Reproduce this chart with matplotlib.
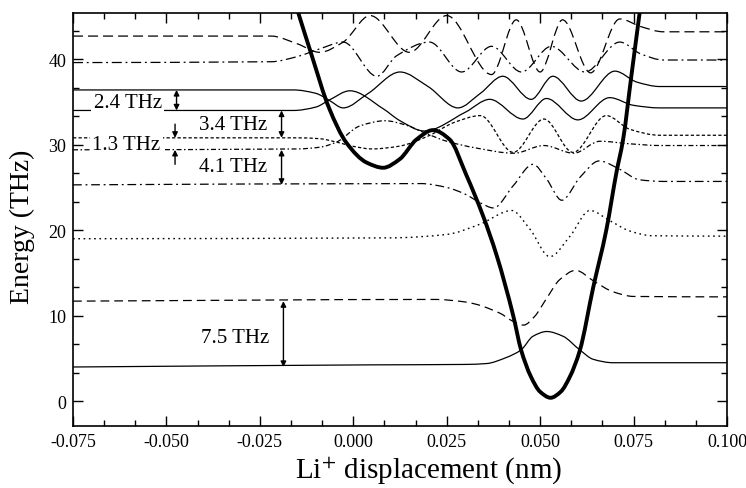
import numpy as np
import matplotlib
matplotlib.use("Agg")
import matplotlib.pyplot as plt
from matplotlib.path import Path
from matplotlib.patches import PathPatch
from matplotlib.ticker import MultipleLocator, FormatStrFormatter

plt.rcParams['font.family'] = ['Liberation Serif', 'DejaVu Serif']
plt.rcParams['mathtext.fontset'] = 'stix'
plt.rcParams['axes.unicode_minus'] = False

# potential (thick line), x in nm, energy in THz
pot_x = [-0.0150, -0.0111, -0.0065, -0.0018, 0.0036, 0.0080, 0.0124, 0.0169, 0.0213,
         0.0258, 0.0302, 0.0347, 0.0384, 0.0428, 0.0449, 0.0475, 0.0500, 0.0528,
         0.0555, 0.0580, 0.0606, 0.0642, 0.0677, 0.0704, 0.0722, 0.0744, 0.0768]
pot_e = [45.8, 40.4, 34.3, 30.2, 27.9, 27.3, 28.3, 30.6, 31.7,
         30.6, 26.5, 21.7, 17.0, 10.0, 6.0, 2.9, 1.1, 0.4,
         1.1, 2.9, 5.9, 13.3, 20.0, 26.7, 30.6, 38.0, 46.0]

# wavefunctions drawn on their energy levels
s0_x = [-0.075, 0.005, 0.030, 0.0356, 0.0409, 0.0449, 0.0481, 0.0518, 0.0561, 0.0606, 0.0642, 0.0695, 0.075, 0.100]
s0_e = [4.0, 4.25, 4.3, 4.4, 5.1, 6.0, 7.6, 8.15, 7.6, 6.0, 4.9, 4.5, 4.5, 4.5]

s1_x = [-0.075, 0.022, 0.030, 0.0392, 0.0425, 0.0456, 0.0485, 0.0517, 0.0552, 0.0595, 0.0645, 0.0695, 0.075, 0.100]
s1_e = [11.7, 11.9, 11.6, 10.3, 9.4, 8.9, 9.9, 12.0, 14.2, 15.3, 14.0, 12.8, 12.25, 12.2]

s2_x = [-0.075, 0.010, 0.025, 0.0339, 0.0424, 0.0473, 0.0526, 0.0580, 0.0633, 0.0687, 0.0740, 0.080, 0.100]
s2_e = [19.0, 19.1, 19.5, 20.7, 22.3, 20.1, 16.9, 19.3, 22.3, 21.1, 19.9, 19.35, 19.3]

s3_x = [-0.075, 0.018, 0.025, 0.030, 0.034, 0.0375, 0.0428, 0.0481, 0.0517, 0.0558, 0.0607, 0.0658, 0.0714, 0.0765, 0.083, 0.100]
s3_e = [25.3, 25.45, 25.0, 24.2, 23.2, 22.6, 25.2, 27.7, 26.0, 23.5, 26.2, 28.1, 27.1, 25.9, 25.7, 25.7]

s4_x = [-0.075, -0.015, -0.0090, -0.0045, 0.0018, 0.0085, 0.0140, 0.0190, 0.0250, 0.0330, 0.0430, 0.0510, 0.0590, 0.0660, 0.0740, 0.082, 0.100]
s4_e = [29.4, 29.5, 29.7, 30.3, 32.2, 32.8, 32.3, 31.4, 30.4, 29.6, 29.0, 29.9, 29.0, 30.4, 30.1, 29.9, 29.9]

s5_x = [-0.075, -0.015, -0.0090, -0.0045, 0.0000, 0.0050, 0.0120, 0.0200, 0.0270, 0.0340, 0.0428, 0.0510, 0.0588, 0.0677, 0.0740, 0.082, 0.100]
s5_e = [30.8, 30.8, 30.7, 30.3, 29.8, 29.5, 29.8, 31.0, 32.6, 33.4, 29.1, 33.0, 29.1, 33.4, 31.8, 31.1, 31.1]

s6_x = [-0.075, -0.016, -0.0100, -0.0065, -0.0009, 0.0080, 0.0125, 0.0190, 0.0300, 0.0365, 0.0454, 0.0517, 0.0601, 0.0686, 0.0750, 0.082, 0.100]
s6_e = [34.0, 34.0, 34.4, 35.2, 36.3, 34.2, 32.8, 31.6, 33.8, 35.3, 33.0, 35.4, 32.9, 35.5, 34.6, 34.3, 34.3]

s7_x = [-0.075, -0.016, -0.0100, -0.0065, -0.0027, 0.0040, 0.0125, 0.0200, 0.0280, 0.0340, 0.0400, 0.0476, 0.0534, 0.0610, 0.0700, 0.0760, 0.082, 0.100]
s7_e = [36.4, 36.4, 36.0, 35.2, 34.3, 36.0, 38.5, 36.8, 34.3, 36.0, 38.0, 35.3, 38.0, 35.1, 38.6, 37.3, 36.8, 36.8]

s8_x = [-0.075, -0.022, -0.015, -0.0090, -0.0027, 0.0063, 0.0116, 0.0204, 0.0290, 0.0370, 0.0450, 0.0530, 0.0620, 0.0713, 0.0770, 0.083, 0.100]
s8_e = [39.6, 39.7, 40.3, 41.2, 42.0, 38.0, 40.4, 42.0, 38.5, 41.5, 38.5, 41.5, 38.5, 42.0, 40.6, 39.9, 39.9]

s9_x = [-0.075, -0.022, -0.015, -0.0090, -0.0027, 0.0045, 0.0150, 0.0250, 0.0370, 0.0436, 0.0500, 0.0560, 0.0635, 0.0713, 0.0770, 0.083, 0.100]
s9_e = [42.7, 42.7, 41.8, 40.8, 42.0, 45.1, 40.8, 45.1, 38.2, 44.6, 38.5, 44.6, 38.4, 44.7, 43.8, 43.2, 43.2]

# level spacings: (label, x of arrow, lower level, upper level)
gaps = [("2.4 THz", -0.0473, 34.0, 36.4),
        ("3.4 THz", -0.0192, 30.8, 34.0),
        ("4.1 THz", -0.0192, 25.3, 29.4),
        ("7.5 THz", -0.0187, 4.0, 11.7)]
label_pos = {"2.4 THz": (-0.0604, 34.9), "3.4 THz": (-0.0322, 32.4),
             "1.3 THz": (-0.0608, 30.0), "4.1 THz": (-0.0323, 27.4),
             "7.5 THz": (-0.0317, 7.5)}


def slopes(x, y):
    x = np.asarray(x, float)
    y = np.asarray(y, float)
    h = np.diff(x)
    d = np.diff(y) / h
    m = np.zeros_like(y)
    m[0], m[-1] = d[0], d[-1]
    for k in range(1, len(x) - 1):
        if d[k - 1] * d[k] > 0:
            w1 = 2 * h[k] + h[k - 1]
            w2 = h[k] + 2 * h[k - 1]
            m[k] = (w1 + w2) / (w1 / d[k - 1] + w2 / d[k])
    return m


def curve(ax, x, y, **kw):
    # smooth bezier path through the read points
    m = slopes(x, y)
    verts = [(x[0], y[0])]
    codes = [Path.MOVETO]
    for i in range(len(x) - 1):
        h = x[i + 1] - x[i]
        verts += [(x[i] + h / 3, y[i] + m[i] * h / 3),
                  (x[i + 1] - h / 3, y[i + 1] - m[i + 1] * h / 3),
                  (x[i + 1], y[i + 1])]
        codes += [Path.CURVE4] * 3
    ax.add_patch(PathPatch(Path(verts, codes), fill=False, color='black',
                           capstyle='butt', **kw))


fig = plt.figure(figsize=(7.46, 4.89), dpi=100)
ax = fig.add_axes([0.0979, 0.1268, 0.8766, 0.8446])

thin = 0.9
curve(ax, s0_x, s0_e, lw=thin, linestyle='-')
curve(ax, s1_x, s1_e, lw=thin, linestyle=(0, (7, 4)))
curve(ax, s2_x, s2_e, lw=1.0, linestyle=(0, (1.2, 2.6)))
curve(ax, s3_x, s3_e, lw=thin, linestyle=(0, (7, 3, 1.5, 3)))
curve(ax, s4_x, s4_e, lw=thin, linestyle=(0, (4, 2, 1.2, 2)))
curve(ax, s5_x, s5_e, lw=thin, linestyle=(0, (2.6, 1.8)))
curve(ax, s6_x, s6_e, lw=thin, linestyle='-')
curve(ax, s7_x, s7_e, lw=thin, linestyle='-')
curve(ax, s8_x, s8_e, lw=thin, linestyle=(0, (8, 3, 1.5, 3)))
curve(ax, s9_x, s9_e, lw=thin, linestyle=(0, (8, 4)))
curve(ax, pot_x, pot_e, lw=2.8, linestyle='-')

arrow = dict(arrowstyle='<|-|>', color='black', lw=1.0, mutation_scale=8,
             shrinkA=0, shrinkB=0)
for name, xa, lo, hi in gaps:
    ax.annotate('', xy=(xa, hi), xytext=(xa, lo), arrowprops=arrow)
one = dict(arrowstyle='-|>', color='black', lw=1.0, mutation_scale=8,
           shrinkA=0, shrinkB=0)
ax.annotate('', xy=(-0.0477, 30.8), xytext=(-0.0477, 32.4), arrowprops=one)
ax.annotate('', xy=(-0.0477, 29.4), xytext=(-0.0477, 27.7), arrowprops=one)

for name, (tx, ty) in label_pos.items():
    ax.text(tx, ty, name, ha='center', va='center', fontsize=15, zorder=4,
            bbox=dict(facecolor='white', edgecolor='none',
                      boxstyle='square,pad=0.12'))

ax.set_xlim(-0.075, 0.100)
ax.set_ylim(-2.9, 45.4)
ax.xaxis.set_major_locator(MultipleLocator(0.025))
ax.xaxis.set_minor_locator(MultipleLocator(0.025 / 3))
ax.xaxis.set_major_formatter(FormatStrFormatter('%.3f'))
ax.yaxis.set_major_locator(MultipleLocator(10))
ax.yaxis.set_minor_locator(MultipleLocator(10 / 3))
ax.tick_params(which='both', direction='in', top=True, right=True, width=1.0,
               labelsize=13)
ax.tick_params(which='major', length=7, pad=5)
ax.tick_params(which='minor', length=4)
for s in ax.spines.values():
    s.set_linewidth(1.2)

ax.set_xlabel('Li$^{+}$ displacement (nm)', fontsize=21)
ax.set_ylabel('Energy (THz)', fontsize=20)
ax.xaxis.set_label_coords(0.544, -0.068)
ax.yaxis.set_label_coords(-0.058, 0.485)

fig.savefig('out.png', dpi=100)
